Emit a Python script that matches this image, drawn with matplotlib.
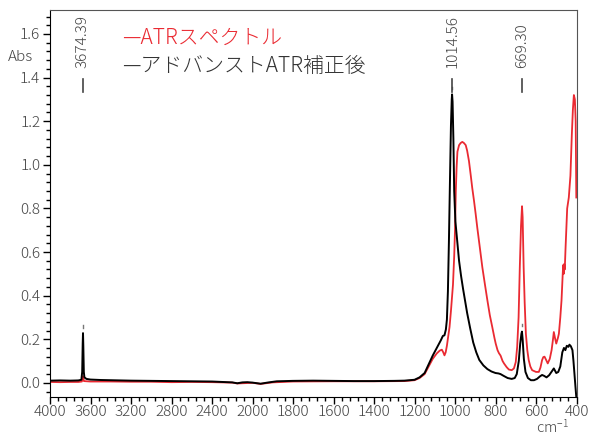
import numpy as np
import matplotlib
matplotlib.use("Agg")
import matplotlib.pyplot as plt

plt.rcParams['font.family'] = ['Noto Sans CJK JP', 'DejaVu Sans']
plt.rcParams['font.weight'] = 'light'
plt.rcParams['mathtext.default'] = 'regular'

# ATR spectrum (red)
atr_wn = [4000, 3900, 3800, 3720, 3685, 3676, 3673, 3665, 3600, 3400, 3200, 3000,
          2800, 2600, 2400, 2200, 2150, 2000, 1960, 1900, 1800, 1600, 1400, 1250,
          1200, 1175, 1150, 1130, 1110, 1090, 1075, 1065, 1058, 1052, 1046, 1040,
          1034, 1027, 1020, 1010, 1004, 1000, 996, 992, 988, 980, 972, 964, 956,
          947, 940, 931, 922, 915, 906, 898, 890, 878, 865, 852, 840, 828, 816,
          805, 799, 790, 783, 775, 765, 758, 745, 734, 720, 709, 700, 693, 686,
          680, 674, 669, 666, 661, 656, 650, 643, 636, 628, 619, 600, 586, 578,
          570, 564, 558, 550, 542, 532, 523, 516, 512, 506, 500, 492, 487, 480,
          474, 468, 466, 463, 461, 458, 454, 446, 438, 430, 423, 418, 413, 408,
          404, 401]
atr_abs = [0.004, 0.003, 0.004, 0.004, 0.006, 0.03, 0.03, 0.008, 0.006, 0.006, 0.005, 0.005,
           0.003, 0.004, 0.003, 0.001, -0.003, 0.000, -0.005, 0.002, 0.006, 0.007, 0.007, 0.008,
           0.012, 0.022, 0.040, 0.075, 0.110, 0.135, 0.148, 0.152, 0.140, 0.126, 0.140, 0.170,
           0.210, 0.256, 0.330, 0.450, 0.580, 0.700, 0.880, 0.990, 1.060, 1.090, 1.100, 1.105, 1.100,
           1.090, 1.065, 1.017, 0.950, 0.895, 0.834, 0.775, 0.712, 0.625, 0.530, 0.450, 0.378, 0.310, 0.256,
           0.205, 0.180, 0.150, 0.136, 0.125, 0.100, 0.089, 0.072, 0.061, 0.058, 0.066, 0.095, 0.164, 0.300,
           0.530, 0.720, 0.810, 0.760, 0.530, 0.370, 0.225, 0.150, 0.104, 0.075, 0.058, 0.050, 0.050, 0.070,
           0.104, 0.118, 0.120, 0.105, 0.089, 0.110, 0.150, 0.200, 0.233, 0.205, 0.180, 0.205, 0.225, 0.300,
           0.378, 0.500, 0.540, 0.500, 0.545, 0.520, 0.620, 0.800, 0.850, 0.950, 1.140, 1.250, 1.320, 1.300,
           1.200, 0.850]

# advanced ATR corrected spectrum (black)
adv_wn = [4000, 3900, 3800, 3720, 3690, 3682, 3677, 3674, 3671, 3666, 3660, 3640, 3600,
          3500, 3400, 3200, 3000, 2800, 2600, 2400, 2300, 2200, 2150, 2100, 2050, 2000,
          1960, 1920, 1880, 1800, 1700, 1600, 1500, 1400, 1300, 1250, 1200, 1175, 1150,
          1130, 1110, 1090, 1070, 1060, 1052, 1045, 1040, 1035, 1030, 1025, 1020, 1016,
          1014.5, 1012, 1008, 1004, 998, 990, 980, 970, 960, 950, 940, 925, 910, 895,
          880, 860, 840, 820, 800, 785, 775, 760, 740, 720, 705, 695, 685, 678, 672,
          669.3, 666, 660, 652, 640, 625, 610, 595, 580, 570, 560, 548, 535, 520, 512,
          500, 490, 480, 470, 462, 455, 448, 440, 435, 428, 420, 415, 410, 405, 401]
adv_abs = [0.010, 0.011, 0.010, 0.011, 0.014, 0.05, 0.18, 0.228, 0.17, 0.05, 0.025, 0.018, 0.015,
           0.013, 0.012, 0.010, 0.009, 0.008, 0.007, 0.006, 0.004, 0.002, -0.002, 0.002, 0.003, 0.001,
           -0.004, 0.002, 0.007, 0.009, 0.010, 0.009, 0.008, 0.008, 0.009, 0.010, 0.014, 0.025, 0.045,
           0.085, 0.125, 0.160, 0.195, 0.215, 0.218, 0.245, 0.29, 0.42, 0.65, 0.92, 1.18, 1.30,
           1.323, 1.29, 1.12, 0.88, 0.74, 0.66, 0.56, 0.49, 0.43, 0.375, 0.32, 0.25, 0.185, 0.14,
           0.105, 0.08, 0.063, 0.052, 0.045, 0.043, 0.040, 0.032, 0.022, 0.018, 0.022, 0.040, 0.10, 0.18, 0.225,
           0.235, 0.20, 0.11, 0.05, 0.022, 0.012, 0.012, 0.018, 0.030, 0.036, 0.032, 0.025, 0.035, 0.055, 0.066,
           0.045, 0.050, 0.075, 0.140, 0.160, 0.150, 0.170, 0.165, 0.175, 0.168, 0.150, 0.100, 0.040, -0.020, -0.065]

peak_wn = [3674.39, 1014.56, 669.30]
peak_top = [0.228, 1.323, 0.235]
peak_labels = ["3674.39", "1014.56", "669.30"]

x_major = [4000, 3600, 3200, 2800, 2400, 2000, 1800, 1600, 1400, 1200, 1000, 800, 600, 400]
y_major = [0.0, 0.2, 0.4, 0.6, 0.8, 1.0, 1.2, 1.4, 1.6]


def fwd(w):
    # wavenumbers below 2000 are stretched x2, like the instrument software
    w = np.asarray(w, dtype=float)
    return np.where(w >= 2000, w, 2 * w - 2000)


def inv(u):
    u = np.asarray(u, dtype=float)
    return np.where(u >= 2000, u, (u + 2000) / 2)


fig = plt.figure(figsize=(5.92, 4.37), dpi=100)
ax = fig.add_axes([50 / 592, 1 - 397 / 437, 526.5 / 592, 387 / 437])
ax.set_xscale('function', functions=(fwd, inv))

ax.plot(atr_wn, atr_abs, color='#ea2a32', lw=1.3)
ax.plot(adv_wn, adv_abs, color='black', lw=1.4)

ax.set_xlim(4000, 400)
ax.set_ylim(-0.065, 1.71)

# peak picks
for w, top, lab in zip(peak_wn, peak_top, peak_labels):
    ax.plot([w, w], [top + 0.025, top + 0.035], color='#777777', lw=1)
    ax.plot([w, w], [1.335, 1.395], color='#444444', lw=1.2)
    ax.text(w, 1.445, lab, rotation=90, ha='center', va='bottom', fontsize=11, color='#444444')

ax.set_xticks(x_major)
ax.set_xticklabels([str(v) for v in x_major])
minor_x = [v for v in range(4000, 2000, -80)] + [v for v in range(2000, 399, -40)]
ax.set_xticks(minor_x, minor=True)
ax.set_yticks(y_major)
ax.set_yticklabels(["%.1f" % v for v in y_major])
ax.set_yticks(np.arange(-0.04, 1.70, 0.04), minor=True)

ax.tick_params(which='major', direction='out', length=5, width=1, labelsize=11,
               labelcolor='#444444', pad=2)
ax.tick_params(axis='x', which='major', pad=1)
ax.tick_params(which='minor', direction='out', length=3, width=1)
for side in ['top', 'right']:
    ax.spines[side].set_color('#555555')

# legend written as text, as in the original
ax.text(0.137, 0.928, "—ATRスペクトル", transform=ax.transAxes, color='#ea2a32',
        fontsize=15, va='center', ha='left')
ax.text(0.137, 0.855, "—アドバンストATR補正後", transform=ax.transAxes, color='#333333',
        fontsize=15, va='center', ha='left')

fig.text(8 / 592, 1 - 57 / 437, "Abs", ha='left', va='center', fontsize=11, color='#444444')
fig.text(552 / 592, 1 - 436 / 437, r"cm$^{-1}$", ha='center', va='bottom', fontsize=10.5, color='#444444')

fig.savefig("out.png", dpi=100)
